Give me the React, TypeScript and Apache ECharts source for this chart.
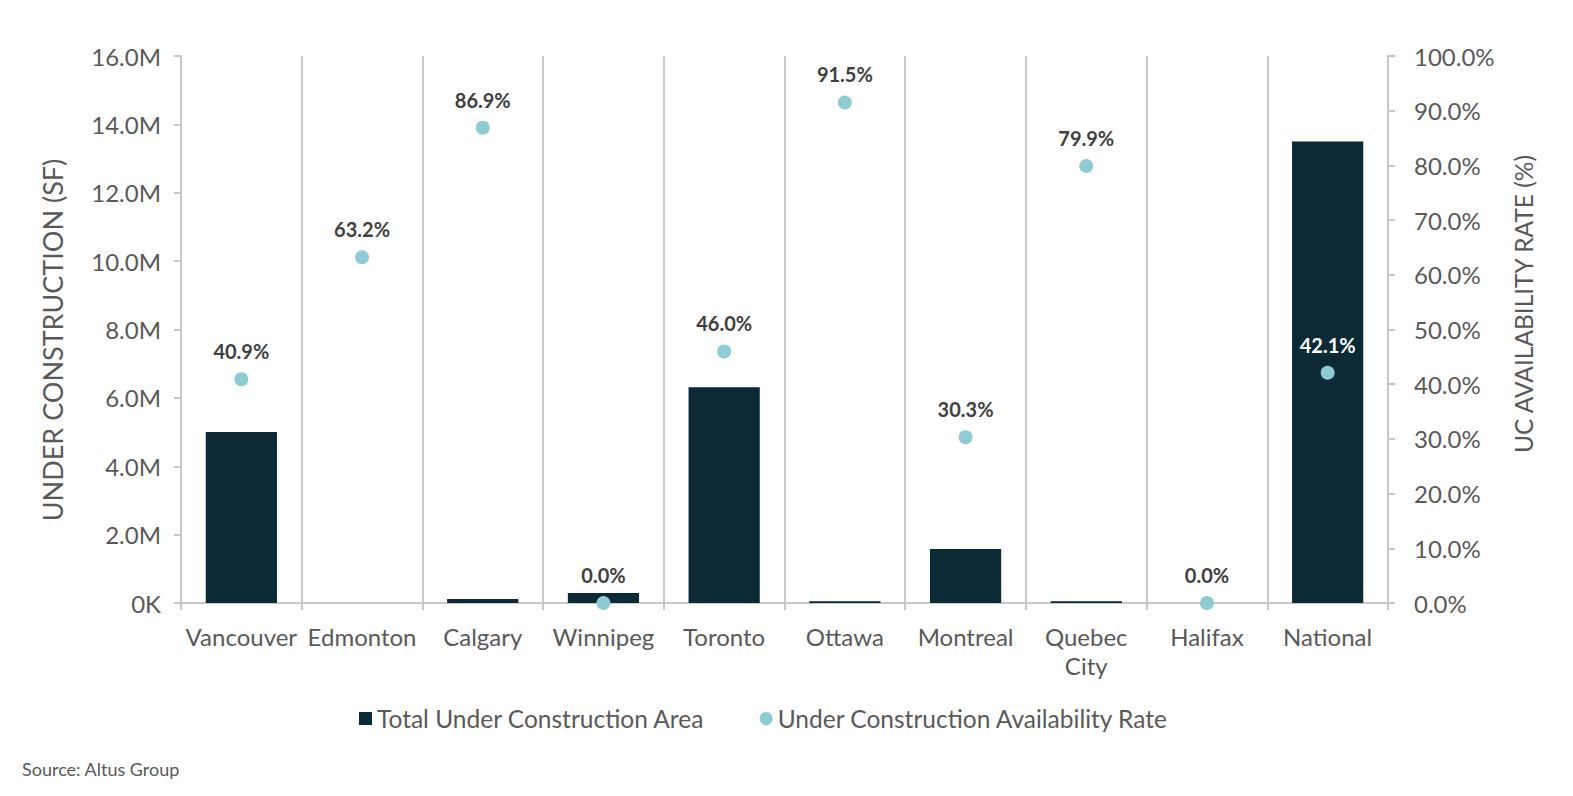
import React, { useEffect, useRef } from "react";
import * as echarts from "echarts";

const categories = ["Vancouver", "Edmonton", "Calgary", "Winnipeg", "Toronto", "Ottawa", "Montreal", "Quebec\nCity", "Halifax", "National"];
const underConstruction = [5.0, 0, 0.12, 0.29, 6.31, 0.05, 1.58, 0.05, 0, 13.5]; // millions SF
const availabilityRate = [40.9, 63.2, 86.9, 0.0, 46.0, 91.5, 30.3, 79.9, 0.0, 42.1]; // %
const leftTicksMax = 16;
const rightTicksMax = 100;

const FONT = "Lato";
const GRAY = "#595959";
const LINE = "#c8c8c8";

export default function App() {
  const ref = useRef<HTMLDivElement>(null);
  useEffect(() => {
    if (!ref.current) return;
    const chart = echarts.init(ref.current, undefined, { renderer: "svg" });
    chart.setOption({
      animation: false,
      textStyle: { fontFamily: FONT },
      grid: { left: 181, right: 185, top: 56, bottom: 193, containLabel: false },
      legend: {
        top: 701,
        left: 354,
        itemGap: 55,
        itemWidth: 13,
        itemHeight: 13,
        textStyle: { fontFamily: FONT, fontSize: 24.5, color: GRAY },
        data: [
          { name: "Total Under Construction Area", icon: "rect" },
          { name: "Under Construction Availability Rate", icon: "circle" },
        ],
      },
      graphic: [
        {
          type: "text",
          left: 22,
          top: 760,
          style: { text: "Source: Altus Group", fontFamily: FONT, fontSize: 18, fill: GRAY },
        },
        {
          type: "text",
          x: 52,
          y: 340,
          rotation: Math.PI / 2,
          style: {
            text: "UNDER CONSTRUCTION (SF)",
            fontFamily: FONT,
            fontSize: 27,
            fill: GRAY,
            align: "center",
            verticalAlign: "middle",
          },
        },
        {
          type: "text",
          x: 1523,
          y: 304,
          rotation: Math.PI / 2,
          style: {
            text: "UC AVAILABILITY RATE (%)",
            fontFamily: FONT,
            fontSize: 24.5,
            fill: GRAY,
            align: "center",
            verticalAlign: "middle",
          },
        },
      ],
      xAxis: {
        type: "category",
        data: categories,
        axisLine: { lineStyle: { color: LINE, width: 2 } },
        axisTick: { show: true, interval: 0, length: 7, lineStyle: { color: LINE, width: 2 } },
        splitLine: { show: true, interval: 0, lineStyle: { color: LINE, width: 2 } },
        axisLabel: { interval: 0, fontFamily: FONT, fontSize: 24, color: GRAY, margin: 19, lineHeight: 29 },
      },
      yAxis: [
        {
          type: "value",
          min: 0,
          max: leftTicksMax,
          interval: 2,
          axisLine: { show: true, lineStyle: { color: LINE, width: 2 } },
          axisTick: { show: true, length: 7, lineStyle: { color: LINE, width: 2 } },
          splitLine: { show: false },
          axisLabel: {
            fontFamily: FONT,
            fontSize: 24,
            color: GRAY,
            margin: 20,
            formatter: (v: number) => (v === 0 ? "0K" : v.toFixed(1) + "M"),
          },
        },
        {
          type: "value",
          min: 0,
          max: rightTicksMax,
          interval: 10,
          position: "right",
          axisLine: { show: true, lineStyle: { color: LINE, width: 2 } },
          axisTick: { show: true, length: 7, lineStyle: { color: LINE, width: 2 } },
          splitLine: { show: false },
          axisLabel: {
            fontFamily: FONT,
            fontSize: 24,
            color: GRAY,
            margin: 26,
            formatter: (v: number) => v.toFixed(1) + "%",
          },
        },
      ],
      series: [
        {
          name: "Total Under Construction Area",
          type: "bar",
          yAxisIndex: 0,
          data: underConstruction,
          barWidth: "59%",
          itemStyle: { color: "#0c2a36" },
        },
        {
          name: "Under Construction Availability Rate",
          type: "scatter",
          yAxisIndex: 1,
          data: availabilityRate.map((v, i) => ({
            value: v,
            label: i === 9 ? { color: "#ffffff" } : undefined,
          })),
          symbolSize: 14,
          itemStyle: { color: "#8ecbd2", opacity: 1 },
          label: {
            show: true,
            position: "top",
            distance: 11,
            fontFamily: FONT,
            fontSize: 20,
            fontWeight: "bold",
            color: "#404040",
            formatter: (p: any) => Number(p.value).toFixed(1) + "%",
          },
          z: 5,
        },
      ],
    });
    return () => chart.dispose();
  }, []);
  return <div ref={ref} style={{ position: "fixed", left: 0, top: 0, width: 1573, height: 796, background: "#fff" }} />;
}
